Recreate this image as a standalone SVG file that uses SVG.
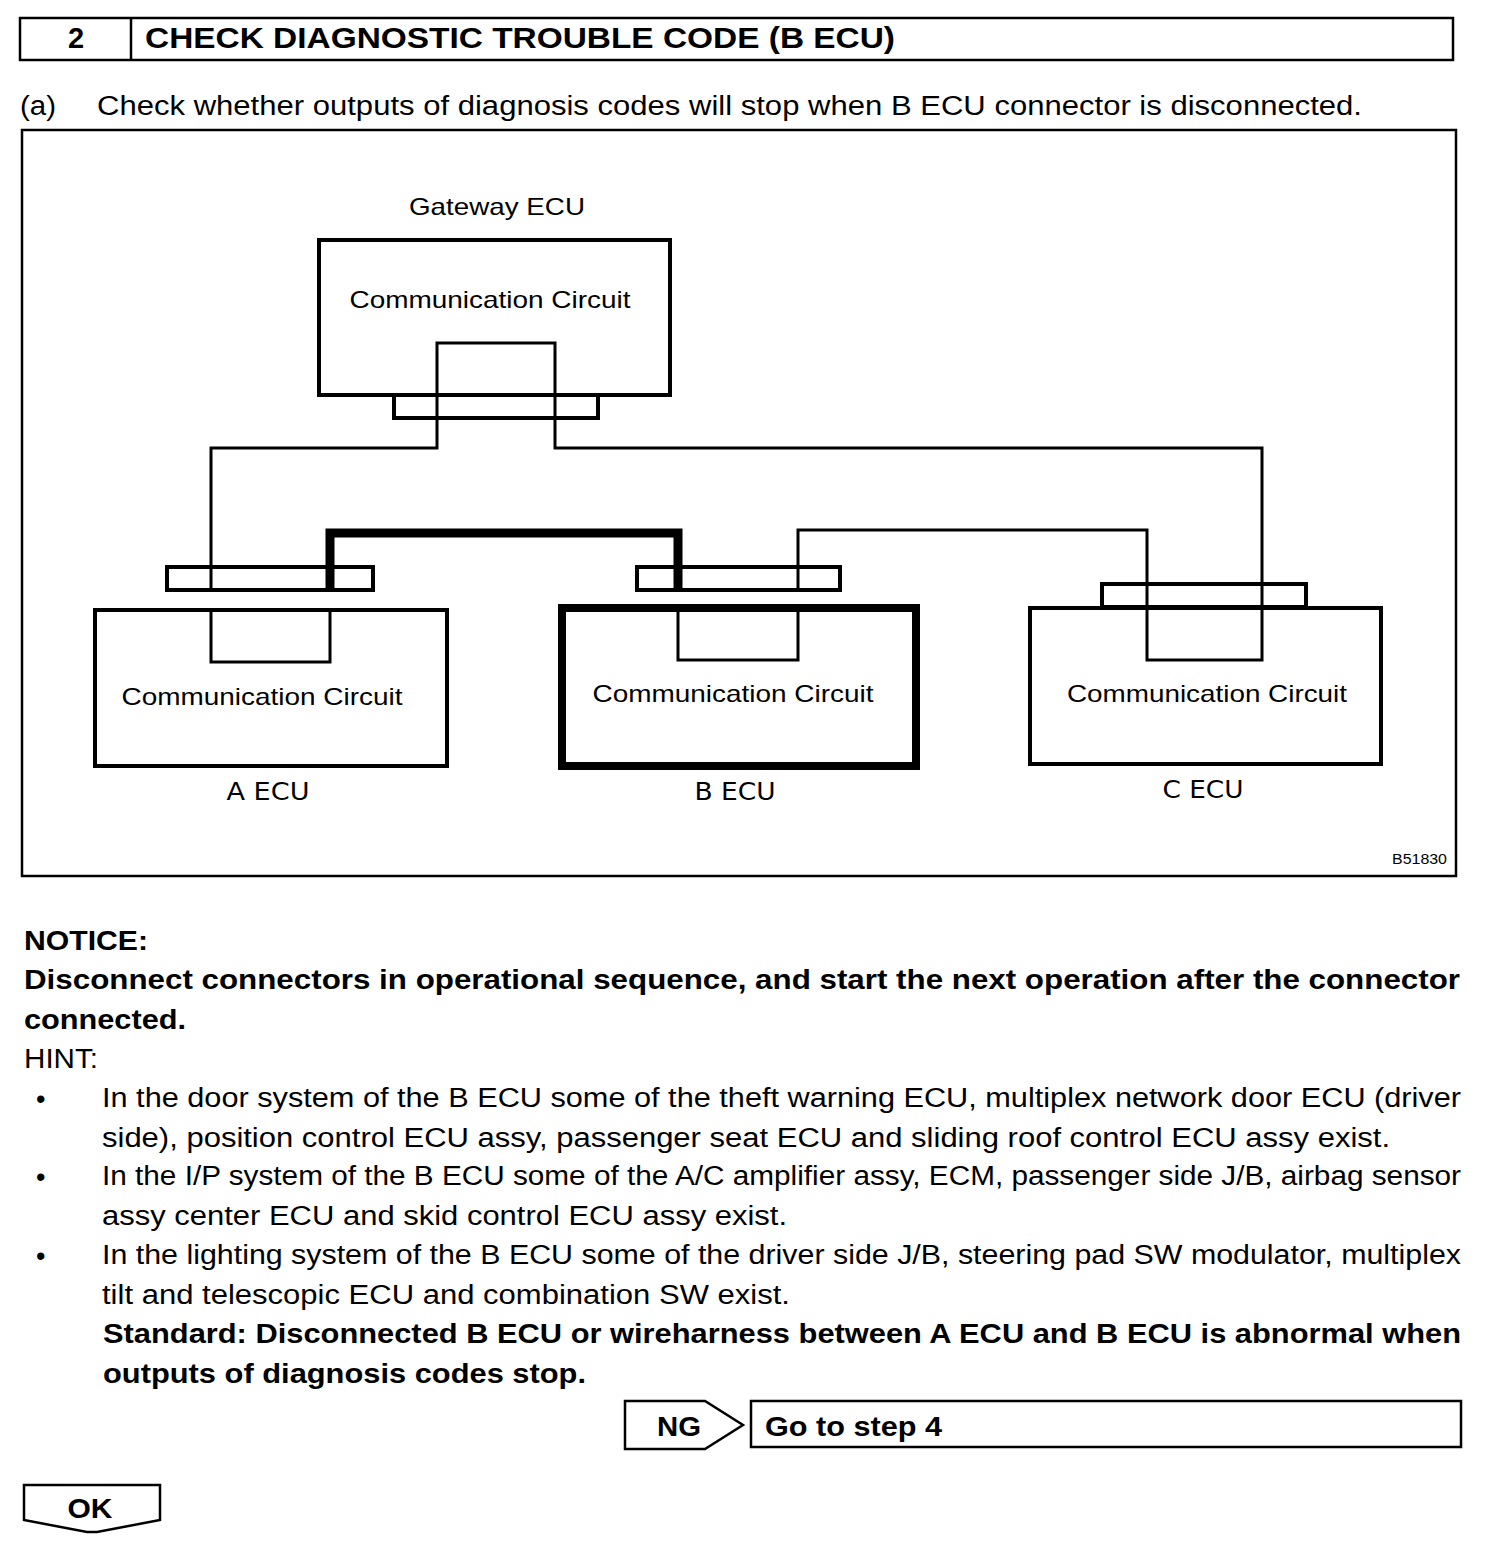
<svg xmlns="http://www.w3.org/2000/svg" width="1504" height="1552" viewBox="0 0 1504 1552">
<style>
text{font-family:"Liberation Sans",Arial,sans-serif;fill:#000}
.b{font-weight:bold}
.body{font-size:27px}
.lbl{font-size:24px}
.ecu{font-family:"DejaVu Sans Condensed","DejaVu Sans",sans-serif;font-size:25px}
.box{fill:none;stroke:#000;stroke-width:4}
.thk{fill:none;stroke:#000;stroke-width:8}
.w{fill:none;stroke:#000;stroke-width:3}
.wt{fill:none;stroke:#000;stroke-width:9}
.fr{fill:none;stroke:#000;stroke-width:2.5}
</style>
<rect width="1504" height="1552" fill="#fff"/>
<g id="header">
<rect x="20" y="18" width="1433" height="42" class="fr" stroke-width="3"/>
<line x1="131" y1="18" x2="131" y2="60" class="fr"/>
<text x="76" y="48" text-anchor="middle" class="b" font-size="29">2</text>
<text x="145" y="48" class="b" font-size="29" textLength="750" lengthAdjust="spacingAndGlyphs">CHECK DIAGNOSTIC TROUBLE CODE (B ECU)</text>
</g>
<text x="20" y="115" class="body" textLength="36" lengthAdjust="spacingAndGlyphs">(a)</text>
<text x="97" y="115" class="body" textLength="1265" lengthAdjust="spacingAndGlyphs">Check whether outputs of diagnosis codes will stop when B ECU connector is disconnected.</text>
<rect id="frame" x="22" y="130" width="1434" height="746" class="fr"/>
<g id="connectors">
<polyline class="w" points="437,418 437,343 555,343 555,418"/>
<polyline class="w" points="437,418 437,448 211,448 211,590"/>
<polyline class="w" points="555,418 555,448 1262,448 1262,607"/>
<polyline class="w" points="798,590 798,530 1147,530 1147,607"/>
<polyline class="wt" points="330,590 330,533 678,533 678,590"/>
</g>
<g id="gateway-ecu">
<text x="497" y="215" text-anchor="middle" class="lbl" textLength="176" lengthAdjust="spacingAndGlyphs">Gateway ECU</text>
<rect x="319" y="240" width="351" height="155" class="box"/>
<text x="490" y="308" text-anchor="middle" class="lbl" textLength="281" lengthAdjust="spacingAndGlyphs">Communication Circuit</text>
<rect x="394" y="395" width="204" height="23" class="box"/>
</g>
<g id="a-ecu">
<rect x="167" y="567" width="206" height="23" class="box"/>
<rect x="95" y="610" width="352" height="156" class="box"/>
<polyline class="w" points="211,610 211,662 330,662 330,610"/>
<text x="262" y="705" text-anchor="middle" class="lbl" textLength="281" lengthAdjust="spacingAndGlyphs">Communication Circuit</text>
<text x="268" y="800" text-anchor="middle" class="ecu" textLength="83" lengthAdjust="spacingAndGlyphs">A ECU</text>
</g>
<g id="b-ecu">
<rect x="637" y="567" width="203" height="23" class="box"/>
<rect x="562" y="608" width="354" height="158" class="thk"/>
<polyline class="w" points="678,610 678,660 798,660 798,610"/>
<text x="733" y="702" text-anchor="middle" class="lbl" textLength="281" lengthAdjust="spacingAndGlyphs">Communication Circuit</text>
<text x="735" y="800" text-anchor="middle" class="ecu" textLength="81" lengthAdjust="spacingAndGlyphs">B ECU</text>
</g>
<g id="c-ecu">
<rect x="1102" y="584" width="204" height="23" class="box"/>
<rect x="1030" y="608" width="351" height="156" class="box"/>
<polyline class="w" points="1147,607 1147,660 1262,660 1262,607"/>
<text x="1207" y="702" text-anchor="middle" class="lbl" textLength="280" lengthAdjust="spacingAndGlyphs">Communication Circuit</text>
<text x="1203" y="798" text-anchor="middle" class="ecu" textLength="81" lengthAdjust="spacingAndGlyphs">C ECU</text>
</g>
<text x="1447" y="864" text-anchor="end" font-size="14" textLength="55" lengthAdjust="spacingAndGlyphs">B51830</text>
<g id="notes">
<text x="24" y="950" class="body b" textLength="124" lengthAdjust="spacingAndGlyphs">NOTICE:</text>
<text x="24" y="989" class="body b" textLength="1436" lengthAdjust="spacingAndGlyphs">Disconnect connectors in operational sequence, and start the next operation after the connector</text>
<text x="24" y="1029" class="body b" textLength="162" lengthAdjust="spacingAndGlyphs">connected.</text>
<text x="24" y="1068" class="body" textLength="74" lengthAdjust="spacingAndGlyphs">HINT:</text>
<text x="36" y="1108" class="body">•</text>
<text x="36" y="1186" class="body">•</text>
<text x="36" y="1265" class="body">•</text>
<text x="102" y="1107" class="body" textLength="1359" lengthAdjust="spacingAndGlyphs">In the door system of the B ECU some of the theft warning ECU, multiplex network door ECU (driver</text>
<text x="102" y="1147" class="body" textLength="1288" lengthAdjust="spacingAndGlyphs">side), position control ECU assy, passenger seat ECU and sliding roof control ECU assy exist.</text>
<text x="102" y="1185" class="body" textLength="1359" lengthAdjust="spacingAndGlyphs">In the I/P system of the B ECU some of the A/C amplifier assy, ECM, passenger side J/B, airbag sensor</text>
<text x="102" y="1225" class="body" textLength="685" lengthAdjust="spacingAndGlyphs">assy center ECU and skid control ECU assy exist.</text>
<text x="102" y="1264" class="body" textLength="1359" lengthAdjust="spacingAndGlyphs">In the lighting system of the B ECU some of the driver side J/B, steering pad SW modulator, multiplex</text>
<text x="102" y="1304" class="body" textLength="688" lengthAdjust="spacingAndGlyphs">tilt and telescopic ECU and combination SW exist.</text>
<text x="103" y="1343" class="body b" textLength="1358" lengthAdjust="spacingAndGlyphs">Standard: Disconnected B ECU or wireharness between A ECU and B ECU is abnormal when</text>
<text x="103" y="1383" class="body b" textLength="483" lengthAdjust="spacingAndGlyphs">outputs of diagnosis codes stop.</text>
</g>
<g id="ng">
<polygon points="625,1401 705,1401 743,1425 705,1449 625,1449" class="fr"/>
<text x="679" y="1436" text-anchor="middle" class="body b" textLength="44" lengthAdjust="spacingAndGlyphs">NG</text>
</g>
<g id="go-step-4">
<rect x="751" y="1401" width="710" height="46" class="fr"/>
<text x="765" y="1436" class="body b" textLength="177" lengthAdjust="spacingAndGlyphs">Go to step 4</text>
</g>
<g id="ok">
<polygon points="24,1485 160,1485 160,1520 97,1532 87,1532 24,1520" class="fr"/>
<text x="90" y="1518" text-anchor="middle" class="body b" textLength="45" lengthAdjust="spacingAndGlyphs">OK</text>
</g>
</svg>
